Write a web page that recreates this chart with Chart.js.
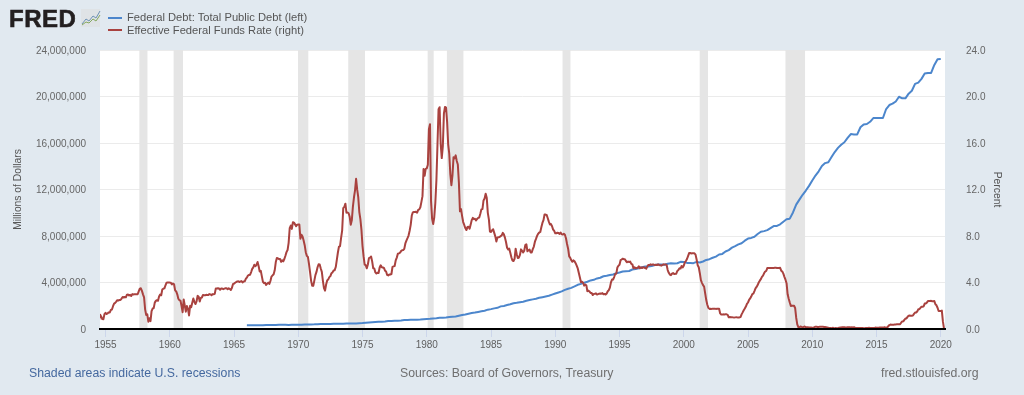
<!DOCTYPE html>
<html>

<head>
  <title>Federal Debt and Effective Federal Funds Rate</title>
  <script src="https://cdn.jsdelivr.net/npm/chart.js"></script>
  <style>
    body {
      margin: 0;
      width: 1024px;
      height: 395px;
      overflow: hidden;
      background-color: #e1e9f0;
      font-family: "Liberation Sans", sans-serif;
      position: relative;
    }

    canvas {
      position: absolute;
      left: 0;
      top: 0;
    }

    .abs {
      position: absolute;
      white-space: nowrap;
    }

    #logo {
      left: 9px;
      top: 5px;
      font-size: 24px;
      line-height: 28px;
      font-weight: bold;
      letter-spacing: 0.5px;
      color: #231f20;
      -webkit-text-stroke: 0.6px #231f20;
    }

    #logoIcon {
      left: 81px;
      top: 9px;
    }

    .legendLine {
      left: 108px;
      width: 14px;
      height: 2px;
    }

    .legendText {
      left: 127px;
      font-size: 11.2px;
      line-height: 14px;
      color: #555;
    }

    .footer {
      top: 366px;
      font-size: 12.27px;
      line-height: 15px;
      color: #6f6f6f;
    }
  </style>
</head>

<body>
  <canvas id="myChart" width="1024" height="395"></canvas>

  <div class="abs" id="logo">FRED</div>
  <svg class="abs" id="logoIcon" width="20" height="18">
    <rect x="0" y="0" width="19" height="18" fill="#dfe3e6" />
    <polyline points="1,15 5,10 8,12 12,7 15,9 19,2" fill="none" stroke="#6f93b5" stroke-width="1" />
    <polyline points="1,16 5,13 8,14 12,10 15,12 19,6" fill="none" stroke="#86a85f" stroke-width="1" />
  </svg>

  <div class="abs legendLine" id="legendDebt" style="top:17px"></div>
  <div class="abs legendText" style="top:10px">Federal Debt: Total Public Debt (left)</div>
  <div class="abs legendLine" id="legendRate" style="top:29px"></div>
  <div class="abs legendText" style="top:23px">Effective Federal Funds Rate (right)</div>

  <div class="abs footer" style="left:29px;color:#44689f">Shaded areas indicate U.S. recessions</div>
  <div class="abs footer" style="left:400px">Sources: Board of Governors, Treasury</div>
  <div class="abs footer" style="left:881px">fred.stlouisfed.org</div>

  <script>
    const debtColor = '#4c86cc';
    const rateColor = '#a9423f';

    const xTickYears = [1955, 1960, 1965, 1970, 1975, 1980, 1985, 1990, 1995, 2000, 2005, 2010, 2015, 2020];

    // NBER recessions, as decimal years
    const recessionStarts = [1957.62, 1960.28, 1969.97, 1973.88, 1980.05, 1981.55, 1990.55, 2001.22, 2007.9];
    const recessionEnds = [1958.28, 1961.03, 1970.8, 1975.2, 1980.55, 1982.87, 1991.2, 2001.9, 2009.45];

    // quarterly, millions of dollars, first value is 1966 Q1
    const debtStartYear = 1966;
    const debtValues = [
      320999, 316097, 324748, 329319,
      330947, 322893, 337500, 344663,
      351000, 347000, 358000, 358000,
      359000, 352895, 360000, 368000,
      372007, 370919, 381000, 389158,
      391000, 398000, 412000, 424131,
      427000, 433000, 437000, 449298,
      458000, 458000, 461000, 469898,
      474000, 475000, 481000, 492666,
      509000, 533000, 553000, 576649,
      599000, 620000, 634000, 653544,
      680000, 685000, 709000, 718943,
      740000, 771000, 772000, 789207,
      797000, 805000, 812000, 845116,
      862000, 877000, 908000, 930210,
      971000, 977000, 997000, 1028729,
      1061000, 1084000, 1142000, 1197073,
      1244000, 1319000, 1377000, 1410702,
      1463000, 1518000, 1572000, 1663000,
      1710000, 1775000, 1823000, 1945942,
      1986000, 2059000, 2125000, 2214000,
      2250000, 2309000, 2350000, 2431000,
      2487000, 2547000, 2602000, 2684000,
      2740000, 2799000, 2857000, 2953000,
      3052000, 3143000, 3233000, 3364000,
      3465000, 3538000, 3665000, 3801000,
      3881000, 3984000, 4065000, 4177000,
      4230000, 4352000, 4411000, 4536000,
      4576000, 4645000, 4692000, 4800000,
      4864000, 4951000, 4974000, 4989000,
      5117000, 5161000, 5224000, 5323000,
      5380000, 5376000, 5413000, 5503000,
      5542000, 5548000, 5526000, 5614000,
      5652000, 5639000, 5656000, 5776000,
      5773000, 5685000, 5674000, 5662000,
      5774000, 5727000, 5807000, 5943000,
      6006000, 6126000, 6228000, 6406000,
      6460000, 6670000, 6783000, 6998000,
      7132000, 7274000, 7379000, 7596000,
      7777000, 7836000, 7933000, 8170000,
      8371000, 8420000, 8507000, 8680000,
      8849665, 8867672, 9007653, 9229172,
      9437594, 9492006, 10024725, 10699805,
      11126941, 11545275, 11909829, 12311350,
      12773123, 13201790, 13561623, 14025215,
      14270114, 14343087, 14790340, 15222940,
      15582079, 15855519, 16066241, 16432730,
      16771600, 16738184, 16738184, 17351971,
      17601227, 17632606, 17824071, 18141444,
      18152056, 18152056, 18150618, 18922179,
      19264939, 19381304, 19573445, 19976827,
      19846420, 19844554, 20244900, 20492747,
      21089643, 21195070, 21516058, 21974096,
      22027880, 22023283, 22719402, 23201380,
      23223813
    ];

    // monthly, percent, first value is July 1954
    const rateStartYear = 1954.5;
    const rateValues = [
      0.80, 1.22, 1.06, 0.85, 0.83, 1.28,
      1.39, 1.29, 1.35, 1.43, 1.43, 1.64, 1.68, 1.96, 2.18, 2.24, 2.35, 2.48,
      2.45, 2.50, 2.50, 2.62, 2.75, 2.71, 2.75, 2.73, 2.95, 2.96, 2.88, 2.94,
      2.84, 3.00, 2.96, 3.00, 3.00, 3.00, 2.99, 3.24, 3.47, 3.50, 3.28, 2.98,
      2.72, 1.67, 1.20, 1.26, 0.63, 0.93, 0.68, 1.53, 1.76, 1.80, 2.27, 2.42,
      2.48, 2.43, 2.80, 2.96, 2.90, 3.39, 3.47, 3.50, 3.76, 3.98, 4.00, 3.99,
      3.99, 3.97, 3.84, 3.92, 3.85, 3.32, 3.23, 2.98, 2.60, 2.47, 2.44, 1.98,
      1.45, 2.54, 2.02, 1.49, 1.98, 1.73, 1.17, 2.00, 1.88, 2.26, 2.62, 2.33,
      2.15, 2.37, 2.85, 2.78, 2.36, 2.68, 2.71, 2.93, 2.90, 2.90, 2.94, 2.93,
      2.92, 3.00, 2.98, 2.90, 3.00, 2.99, 3.02, 3.49, 3.48, 3.50, 3.48, 3.38,
      3.48, 3.48, 3.43, 3.47, 3.50, 3.50, 3.42, 3.50, 3.45, 3.36, 3.52, 3.85,
      3.90, 3.98, 4.04, 4.09, 4.10, 4.04, 4.09, 4.12, 4.01, 4.08, 4.10, 4.32,
      4.42, 4.60, 4.65, 4.67, 4.90, 5.17, 5.30, 5.53, 5.40, 5.53, 5.76, 5.40,
      4.94, 5.00, 4.53, 4.05, 3.94, 3.98, 3.79, 3.90, 3.99, 3.88, 4.13, 4.51,
      4.61, 4.71, 5.05, 5.76, 6.11, 6.07, 6.02, 6.03, 5.78, 5.91, 5.82, 6.02,
      6.30, 6.61, 6.79, 7.41, 8.67, 8.90, 8.61, 9.19, 9.15, 9.00, 8.85, 8.97,
      8.98, 8.98, 7.76, 8.10, 7.95, 7.61, 7.21, 6.61, 6.29, 6.20, 5.60, 4.90,
      4.14, 3.72, 3.71, 4.16, 4.63, 4.91, 5.31, 5.57, 5.55, 5.20, 4.91, 4.14,
      3.51, 3.30, 3.83, 4.17, 4.27, 4.46, 4.55, 4.80, 4.87, 5.04, 5.06, 5.33,
      5.94, 6.58, 7.09, 7.12, 7.84, 8.49, 10.40, 10.50, 10.78, 10.01, 10.03, 9.95,
      9.65, 8.97, 9.35, 10.51, 11.31, 11.93, 12.92, 12.01, 11.34, 10.06, 9.45, 8.53,
      7.13, 6.24, 5.54, 5.49, 5.22, 5.55, 6.10, 6.14, 6.24, 5.82, 5.22, 5.20,
      4.87, 4.77, 4.84, 4.82, 5.29, 5.48, 5.31, 5.29, 5.25, 5.02, 4.95, 4.65,
      4.61, 4.68, 4.69, 4.73, 5.35, 5.39, 5.42, 5.90, 6.14, 6.47, 6.51, 6.56,
      6.70, 6.78, 6.79, 6.89, 7.36, 7.60, 7.81, 8.04, 8.45, 8.96, 9.76, 10.03,
      10.07, 10.06, 10.09, 10.01, 10.24, 10.29, 10.47, 10.94, 11.43, 13.77, 13.18, 13.78,
      13.82, 14.13, 17.19, 17.61, 10.98, 9.47, 9.03, 9.61, 10.87, 12.81, 15.85, 18.90,
      19.08, 15.93, 14.70, 15.72, 18.52, 19.10, 19.04, 17.82, 15.87, 15.08, 13.31, 12.37,
      13.22, 14.78, 14.68, 14.94, 14.45, 14.15, 12.59, 10.12, 10.31, 9.71, 9.20, 8.95,
      8.68, 8.51, 8.77, 8.80, 8.63, 8.98, 9.37, 9.56, 9.45, 9.48, 9.34, 9.47,
      9.56, 9.59, 9.91, 10.29, 10.32, 11.06, 11.23, 11.64, 11.30, 9.99, 9.43, 8.38,
      8.35, 8.50, 8.58, 8.27, 7.97, 7.53, 7.88, 7.90, 7.92, 7.99, 8.05, 8.27,
      8.14, 7.86, 7.48, 6.99, 6.85, 6.92, 6.56, 6.17, 5.89, 5.85, 6.04, 6.91,
      6.43, 6.10, 6.13, 6.37, 6.85, 6.73, 6.58, 6.73, 7.22, 7.29, 6.69, 6.77,
      6.83, 6.58, 6.58, 6.87, 7.09, 7.51, 7.75, 8.01, 8.19, 8.30, 8.35, 8.76,
      9.12, 9.36, 9.85, 9.84, 9.81, 9.53, 9.24, 8.99, 9.02, 8.84, 8.55, 8.45,
      8.23, 8.24, 8.28, 8.26, 8.18, 8.29, 8.15, 8.13, 8.20, 8.11, 7.81, 7.31,
      6.91, 6.25, 6.12, 5.91, 5.78, 5.90, 5.82, 5.66, 5.45, 5.21, 4.81, 4.43,
      4.03, 4.06, 3.98, 3.73, 3.82, 3.76, 3.25, 3.30, 3.22, 3.10, 3.09, 2.92,
      3.02, 3.03, 3.07, 2.96, 3.00, 3.04, 3.06, 3.03, 3.09, 2.99, 3.02, 2.96,
      3.05, 3.25, 3.34, 3.56, 4.01, 4.25, 4.26, 4.47, 4.73, 4.76, 5.29, 5.45,
      5.53, 5.92, 5.98, 6.05, 6.01, 6.00, 5.85, 5.74, 5.80, 5.76, 5.80, 5.60,
      5.56, 5.22, 5.31, 5.22, 5.24, 5.27, 5.40, 5.22, 5.30, 5.24, 5.31, 5.29,
      5.25, 5.19, 5.39, 5.51, 5.50, 5.56, 5.52, 5.54, 5.54, 5.50, 5.52, 5.50,
      5.56, 5.51, 5.49, 5.45, 5.49, 5.56, 5.54, 5.55, 5.51, 5.07, 4.83, 4.68,
      4.63, 4.76, 4.81, 4.74, 4.74, 4.76, 4.99, 5.07, 5.22, 5.20, 5.42, 5.30,
      5.45, 5.73, 5.85, 6.02, 6.27, 6.53, 6.54, 6.50, 6.52, 6.51, 6.51, 6.40,
      5.98, 5.49, 5.31, 4.80, 4.21, 3.97, 3.77, 3.65, 3.07, 2.49, 2.09, 1.82,
      1.73, 1.74, 1.73, 1.75, 1.75, 1.75, 1.73, 1.74, 1.75, 1.75, 1.34, 1.24,
      1.24, 1.26, 1.25, 1.26, 1.26, 1.22, 1.01, 1.03, 1.01, 1.01, 1.00, 0.98,
      1.00, 1.01, 1.00, 1.00, 1.00, 1.03, 1.26, 1.43, 1.61, 1.76, 1.93, 2.16,
      2.28, 2.50, 2.63, 2.79, 3.00, 3.04, 3.26, 3.50, 3.62, 3.78, 4.00, 4.16,
      4.29, 4.49, 4.59, 4.79, 4.94, 4.99, 5.24, 5.25, 5.25, 5.25, 5.25, 5.24,
      5.25, 5.26, 5.26, 5.25, 5.25, 5.25, 5.26, 5.02, 4.94, 4.76, 4.49, 4.24,
      3.94, 2.98, 2.61, 2.28, 1.98, 2.00, 2.01, 2.00, 1.81, 0.97, 0.39, 0.16,
      0.15, 0.22, 0.18, 0.15, 0.18, 0.21, 0.16, 0.16, 0.15, 0.12, 0.12, 0.12,
      0.11, 0.13, 0.16, 0.20, 0.20, 0.18, 0.18, 0.19, 0.19, 0.19, 0.19, 0.18,
      0.17, 0.16, 0.14, 0.10, 0.09, 0.09, 0.07, 0.10, 0.08, 0.07, 0.08, 0.07,
      0.08, 0.10, 0.13, 0.14, 0.16, 0.16, 0.16, 0.13, 0.14, 0.16, 0.16, 0.16,
      0.14, 0.15, 0.14, 0.15, 0.11, 0.09, 0.09, 0.08, 0.08, 0.09, 0.08, 0.09,
      0.07, 0.07, 0.08, 0.09, 0.09, 0.10, 0.09, 0.09, 0.09, 0.09, 0.09, 0.12,
      0.11, 0.11, 0.11, 0.12, 0.12, 0.13, 0.13, 0.14, 0.14, 0.12, 0.12, 0.24,
      0.34, 0.38, 0.36, 0.37, 0.37, 0.38, 0.39, 0.40, 0.40, 0.40, 0.41, 0.54,
      0.65, 0.66, 0.79, 0.90, 0.91, 1.04, 1.15, 1.16, 1.15, 1.15, 1.16, 1.30,
      1.41, 1.42, 1.51, 1.69, 1.70, 1.82, 1.91, 1.91, 1.95, 2.19, 2.20, 2.27,
      2.40, 2.40, 2.41, 2.42, 2.39, 2.38, 2.40, 2.13, 2.04, 1.83, 1.55, 1.55,
      1.55, 1.58, 0.65, 0.05
    ];

    document.getElementById('legendDebt').style.background = debtColor;
    document.getElementById('legendRate').style.background = rateColor;

    const debtPoints = debtValues.map((v, i) => ({ x: debtStartYear + i / 4, y: v }));
    const ratePoints = rateValues.map((v, i) => ({ x: rateStartYear + i / 12, y: v }));

    // bars as a filled line on the right axis, a null between them breaks the fill
    const recessionPoints = [];
    recessionStarts.forEach((start, i) => {
      recessionPoints.push({ x: start, y: 24 }, { x: recessionEnds[i], y: 24 }, { x: recessionEnds[i], y: null });
    });

    const tickFont = { family: '"Liberation Sans", sans-serif', size: 10 };
    const titleFont = { family: '"Liberation Sans", sans-serif', size: 10.3 };

    new Chart(document.getElementById('myChart').getContext('2d'), {
      type: 'line',
      data: {
        datasets: [{
          label: 'Federal Debt: Total Public Debt (left)',
          data: debtPoints,
          yAxisID: 'yDebt',
          borderColor: debtColor,
          borderWidth: 2,
          borderJoinStyle: 'round',
          pointRadius: 0,
          order: 2
        }, {
          label: 'Effective Federal Funds Rate (right)',
          data: ratePoints,
          yAxisID: 'yRate',
          borderColor: rateColor,
          borderWidth: 2,
          borderJoinStyle: 'round',
          pointRadius: 0,
          order: 1
        }, {
          label: 'Recessions',
          data: recessionPoints,
          yAxisID: 'yRate',
          borderWidth: 0,
          pointRadius: 0,
          backgroundColor: '#e5e5e5',
          fill: 'origin',
          spanGaps: false,
          order: 3
        }]
      },
      options: {
        responsive: false,
        animation: false,
        layout: { padding: { top: 50 } },
        plugins: {
          legend: { display: false },
          tooltip: { enabled: false }
        },
        scales: {
          x: {
            type: 'linear',
            min: 1954.57,
            max: 2020.33,
            afterFit: (scale) => { scale.height = 66; },
            afterBuildTicks: (scale) => { scale.ticks = xTickYears.map(v => ({ value: v })); },
            border: { color: '#000', width: 2, z: 1 },
            grid: { drawOnChartArea: false, tickColor: '#ccd6eb', tickLength: 8 },
            ticks: {
              autoSkip: false,
              maxRotation: 0,
              padding: 2,
              color: '#5f5f5f',
              font: tickFont,
              callback: (v) => String(v)
            }
          },
          yDebt: {
            position: 'left',
            min: 0,
            max: 24000000,
            afterFit: (scale) => { scale.width = 100; },
            border: { display: false },
            grid: { color: '#ebebeb', lineWidth: 1, drawTicks: false },
            title: {
              display: true,
              text: 'Millions of Dollars',
              color: '#555',
              font: titleFont,
              padding: { top: 12, bottom: 0 }
            },
            ticks: {
              stepSize: 4000000,
              padding: 14,
              labelOffset: 1,
              color: '#666',
              font: tickFont,
              callback: (v) => v.toLocaleString('en-US')
            }
          },
          yRate: {
            position: 'right',
            min: 0,
            max: 24,
            afterFit: (scale) => { scale.width = 79; },
            border: { display: false },
            grid: { display: false },
            title: {
              display: true,
              text: 'Percent',
              color: '#555',
              font: titleFont,
              padding: { top: 21, bottom: 0 }
            },
            ticks: {
              stepSize: 4,
              padding: 13,
              labelOffset: 1,
              color: '#666',
              font: tickFont,
              callback: (v) => v.toFixed(1)
            }
          }
        }
      },
      plugins: [{
        // white plot background sits under the grid
        id: 'plotBackground',
        beforeDraw: (chart) => {
          const { ctx, chartArea } = chart;
          ctx.save();
          ctx.fillStyle = '#fff';
          ctx.fillRect(chartArea.left, chartArea.top, chartArea.right - chartArea.left, chartArea.bottom - chartArea.top);
          ctx.restore();
        }
      }]
    });
  </script>
</body>

</html>
